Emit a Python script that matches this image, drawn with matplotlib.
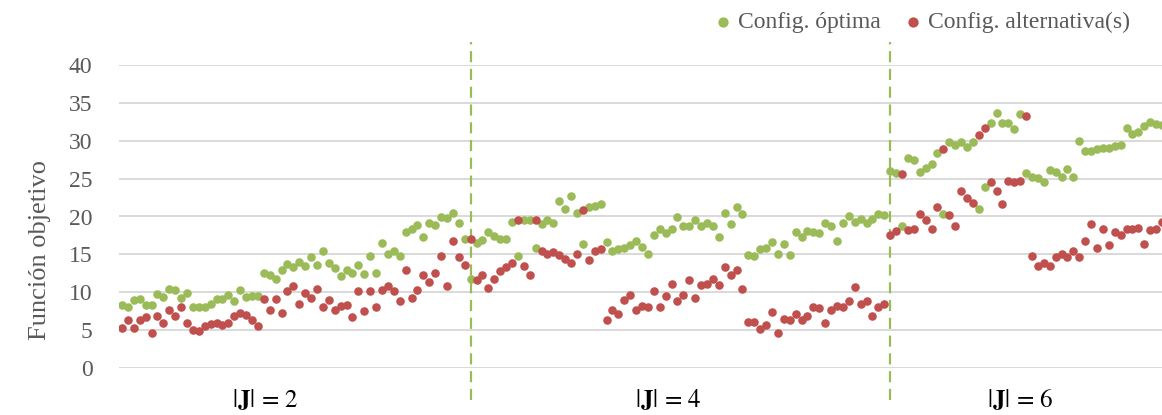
import matplotlib
matplotlib.use("Agg")
import matplotlib.pyplot as plt
import numpy as np

plt.rcParams["font.family"] = ["Liberation Serif", "DejaVu Serif"]
plt.rcParams["mathtext.fontset"] = "stix"

# objective value of the optimal configuration, one point per instance
optima = [
    # |J| = 2
    8.3, 8.1, 9.0, 9.1, 8.3, 8.3, 9.8, 9.4, 10.4, 10.3, 9.2, 9.9, 8.1, 8.0, 8.1,
    8.5, 9.1, 9.1, 9.6, 8.8, 10.3, 9.4, 9.5, 9.5, 12.5, 12.3, 11.8, 12.9, 13.7, 13.3,
    14.0, 13.4, 14.6, 13.6, 15.5, 13.9, 13.2, 12.2, 12.9, 12.5, 13.6, 12.4, 14.8, 12.6,
    16.5, 15.1, 15.4, 14.8, 18.0, 18.3, 18.9, 17.3, 19.1, 18.9, 19.9, 19.8, 20.4, 19.1, 17.0,
    # |J| = 4
    11.7, 16.5, 16.9, 18.0, 17.4, 17.0, 17.0, 19.3, 14.8, 19.5, 19.6, 15.9, 19.0, 19.6,
    19.1, 22.1, 21.0, 22.7, 20.4, 16.4, 21.2, 21.4, 21.7, 16.6, 15.5, 15.7, 15.9, 16.2,
    16.7, 16.0, 15.0, 17.6, 18.4, 17.8, 18.4, 19.9, 18.7, 18.7, 19.6, 18.8, 19.1, 18.7,
    17.3, 20.4, 19.0, 21.2, 20.3, 14.9, 14.8, 15.7, 15.8, 16.6, 15.0, 16.4, 14.9, 18.0,
    17.3, 18.1, 17.9, 17.8, 19.2, 18.8, 16.7, 19.2, 20.1, 19.3, 19.7, 19.2, 19.7, 20.3, 20.2,
    # |J| = 6
    26.0, 25.7, 18.8, 27.7, 27.4, 25.9, 26.4, 26.9, 28.4, 20.3, 29.9, 29.5, 29.8, 29.2,
    29.9, 21.0, 23.9, 32.3, 33.7, 32.3, 32.3, 31.5, 33.5, 25.8, 25.2, 25.1, 24.6, 26.2,
    25.9, 25.2, 26.3, 25.2, 30.0, 28.7, 28.7, 28.9, 29.0, 29.1, 29.3, 29.5, 31.7, 30.9,
    31.1, 31.9, 32.5, 32.2, 32.1,
]

# objective value of the alternative configuration(s)
alternativas = [
    # |J| = 2
    5.3, 6.3, 5.3, 6.3, 6.7, 4.6, 6.9, 6.0, 7.7, 6.8, 8.0, 5.9, 5.0, 4.9, 5.6,
    5.8, 5.9, 5.7, 6.0, 6.8, 7.2, 7.0, 6.4, 5.5, 9.1, 7.6, 9.1, 7.2, 10.2, 10.8,
    8.5, 9.9, 9.2, 10.4, 8.1, 9.0, 7.7, 8.2, 8.3, 6.7, 10.2, 7.5, 10.2, 8.1,
    10.3, 10.8, 10.2, 8.9, 12.9, 9.2, 10.3, 12.3, 11.4, 12.6, 14.8, 10.8, 16.8, 14.6, 13.6,
    # |J| = 4
    17.0, 11.6, 12.3, 10.6, 11.8, 12.8, 13.3, 13.8, 19.6, 13.5, 12.3, 19.6, 15.4, 15.1,
    15.3, 14.9, 14.4, 13.8, 15.1, 20.9, 14.2, 15.4, 15.7, 6.4, 7.7, 7.1, 9.0, 9.6,
    7.6, 8.2, 8.1, 10.1, 8.1, 9.5, 11.1, 8.8, 9.6, 11.6, 9.3, 11.0, 11.1, 11.8,
    11.0, 13.3, 12.3, 13.0, 10.4, 6.1, 6.1, 5.1, 5.7, 7.4, 4.6, 6.5, 6.4, 7.1,
    6.4, 6.8, 8.1, 7.9, 5.9, 7.6, 8.2, 8.1, 8.9, 10.7, 8.5, 8.8, 6.9, 8.1, 8.5,
    # |J| = 6
    17.5, 18.1, 25.6, 18.2, 18.4, 20.3, 19.5, 18.4, 21.3, 28.9, 20.2, 18.7, 23.4, 22.5,
    21.8, 30.8, 31.7, 24.5, 23.4, 21.6, 24.7, 24.6, 24.7, 33.3, 14.8, 13.4, 13.9, 13.4,
    14.6, 15.1, 14.7, 15.5, 14.7, 16.8, 19.0, 15.8, 18.4, 16.2, 17.9, 17.6, 18.3, 18.3,
    18.5, 16.4, 18.2, 18.3, 19.3,
]

grupos = ["$|\\mathbf{J}|\\,=\\,2$", "$|\\mathbf{J}|\\,=\\,4$", "$|\\mathbf{J}|\\,=\\,6$"]
inicio_grupo = [0, 59, 130]          # first instance of each |J| block
pos_etiqueta = [24.2, 92.4, 152.0]  # where each block name is written

verde = "#9BBB59"
rojo = "#C0504D"
gris = "#595959"

x = np.arange(len(optima))

fig = plt.figure(figsize=(11.62, 4.15), dpi=100)
ax = fig.add_axes([119 / 1162, 47 / 415, 1043 / 1162, 303 / 415])

ax.scatter(x, optima, s=38, color=verde, linewidths=0, zorder=3, label="Config. óptima")
ax.scatter(x, alternativas, s=38, color=rojo, linewidths=0, zorder=4, label="Config. alternativa(s)")

# dashed separators between the |J| blocks
for xi in inicio_grupo[1:]:
    ax.plot([xi, xi], [-4.2, 43.0], color=verde, lw=1.6, ls=(0, (5, 3)),
            clip_on=False, zorder=2)

for xi, txt in zip(pos_etiqueta, grupos):
    ax.text(xi, -0.105, txt, transform=ax.get_xaxis_transform(), ha="center",
            va="center", fontsize=18, color="black")

ax.set_xlim(-0.5, 176.0)
ax.set_ylim(0, 40)
ax.set_yticks(np.arange(0, 41, 5))
ax.set_xticks([])
ax.tick_params(axis="y", length=0, pad=19, labelsize=17, labelcolor=gris)
ax.grid(axis="y", color="#D9D9D9", lw=1.4, zorder=0)
ax.set_axisbelow(True)
for s in ax.spines.values():
    s.set_visible(False)

fig.text(40 / 1162, 1 - 250 / 415, "Función objetivo", rotation=90, ha="center",
         va="center", fontsize=19, color=gris)

ax.legend(loc="center", bbox_to_anchor=(923 / 1162, 1 - 22 / 415),
          bbox_transform=fig.transFigure, ncol=2, frameon=False, fontsize=17,
          labelcolor=gris, handlelength=0.6, handletextpad=0.3, columnspacing=1.1,
          markerscale=1.2, borderaxespad=0, borderpad=0)

fig.savefig("out.png", dpi=100)
